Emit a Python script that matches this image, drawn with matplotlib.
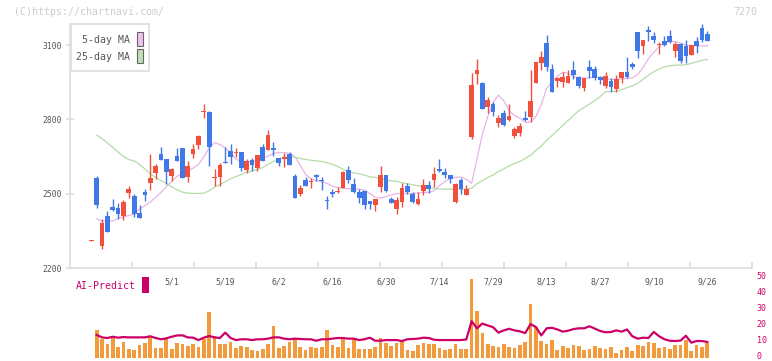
import numpy as np
import matplotlib
matplotlib.use("Agg")
import matplotlib.pyplot as plt
from matplotlib.patches import Rectangle
from matplotlib.transforms import blended_transform_factory, ScaledTranslation

# daily candles (index 0 = first session shown)
opens = [2310, 2563, 2290, 2410, 2445, 2441, 2411, 2504, 2491, 2422,
         2507, 2544, 2585, 2660, 2640, 2573, 2652, 2684, 2568, 2660,
         2698, 2828, 2830, 2564, 2566, 2629, 2672, 2663, 2668, 2596,
         2636, 2605, 2688, 2676, 2684, 2645, 2640, 2660, 2571, 2500,
         2554, 2546, 2575, 2552, 2475, 2507, 2508, 2524, 2595, 2540,
         2508, 2511, 2470, 2453, 2528, 2575, 2478, 2437, 2468, 2531,
         2500, 2457, 2510, 2535, 2555, 2600, 2587, 2575, 2468, 2555,
         2496, 2727, 2983, 2948, 2851, 2862, 2786, 2827, 2797, 2733,
         2744, 2804, 2811, 2948, 3029, 3107, 3003, 2955, 2949, 2948,
         2998, 2971, 2928, 3010, 3003, 2970, 2936, 2956, 2924, 2968,
         2990, 3022, 3151, 3096, 3161, 3136, 3100, 3117, 3136, 3077,
         3104, 3096, 3060, 3116, 3169, 3144]
highs = [2314, 2571, 2398, 2430, 2478, 2462, 2473, 2532, 2499, 2454,
         2519, 2660, 2620, 2688, 2640, 2605, 2686, 2684, 2632, 2699,
         2737, 2861, 2832, 2600, 2623, 2687, 2700, 2683, 2668, 2639,
         2645, 2657, 2700, 2757, 2709, 2645, 2663, 2667, 2579, 2534,
         2567, 2564, 2579, 2566, 2490, 2518, 2528, 2591, 2613, 2562,
         2518, 2511, 2470, 2478, 2612, 2575, 2488, 2488, 2542, 2542,
         2508, 2508, 2559, 2552, 2606, 2640, 2602, 2575, 2544, 2564,
         2535, 2986, 3043, 2951, 2891, 2870, 2817, 2838, 2862, 2768,
         2786, 2834, 2999, 3031, 3077, 3140, 3023, 2972, 2991, 2999,
         3035, 2975, 2966, 3039, 3015, 2976, 2990, 2966, 2979, 2990,
         3052, 3033, 3151, 3120, 3177, 3152, 3112, 3136, 3161, 3112,
         3109, 3120, 3100, 3133, 3185, 3157]
lows = [2310, 2444, 2276, 2346, 2430, 2397, 2395, 2484, 2407, 2403,
        2470, 2515, 2560, 2637, 2538, 2552, 2633, 2564, 2548, 2645,
        2679, 2807, 2613, 2532, 2532, 2625, 2621, 2649, 2593, 2583,
        2593, 2593, 2633, 2676, 2652, 2610, 2607, 2616, 2484, 2492,
        2532, 2523, 2552, 2513, 2440, 2488, 2501, 2524, 2542, 2501,
        2461, 2440, 2437, 2431, 2508, 2508, 2461, 2417, 2447, 2497,
        2461, 2453, 2493, 2501, 2528, 2589, 2564, 2544, 2464, 2500,
        2496, 2722, 2943, 2841, 2827, 2813, 2770, 2774, 2794, 2723,
        2733, 2794, 2790, 2948, 2999, 2996, 2909, 2932, 2929, 2948,
        2962, 2928, 2916, 2966, 2959, 2943, 2925, 2912, 2910, 2948,
        2966, 3003, 3048, 3064, 3116, 3107, 3064, 3096, 3109, 3053,
        3029, 3029, 3060, 3069, 3113, 3117]
closes = [2314, 2455, 2383, 2346, 2434, 2419, 2466, 2519, 2419, 2403,
          2496, 2563, 2613, 2637, 2589, 2600, 2633, 2564, 2612, 2679,
          2732, 2832, 2687, 2568, 2616, 2625, 2649, 2667, 2605, 2632,
          2616, 2656, 2633, 2737, 2678, 2625, 2647, 2616, 2484, 2524,
          2532, 2550, 2568, 2550, 2472, 2497, 2512, 2587, 2555, 2508,
          2484, 2453, 2460, 2478, 2575, 2512, 2464, 2474, 2523, 2508,
          2465, 2478, 2535, 2519, 2579, 2592, 2577, 2559, 2538, 2518,
          2518, 2939, 2999, 2841, 2878, 2831, 2807, 2778, 2813, 2760,
          2773, 2797, 2874, 3031, 3050, 3010, 2909, 2966, 2971, 2975,
          2979, 2936, 2966, 2996, 2968, 2958, 2975, 2932, 2963, 2990,
          2972, 3011, 3077, 3120, 3154, 3120, 3104, 3100, 3113, 3104,
          3037, 3057, 3100, 3097, 3120, 3117]

# moving averages, volume and AI-Predict start at the second session
ma5 = [2398, 2390, 2390, 2390, 2400, 2406, 2412, 2418, 2438, 2452,
       2466, 2485, 2505, 2528, 2550, 2570, 2582, 2592, 2603, 2618,
       2648, 2685, 2706, 2698, 2685, 2665, 2640, 2628, 2628, 2630,
       2633, 2642, 2652, 2662, 2666, 2666, 2663, 2650, 2615, 2578,
       2560, 2552, 2548, 2542, 2530, 2525, 2522, 2520, 2520, 2518,
       2515, 2500, 2486, 2482, 2488, 2495, 2500, 2501, 2501, 2501,
       2503, 2505, 2505, 2512, 2533, 2548, 2562, 2566, 2567, 2558,
       2542, 2640, 2740, 2810, 2868, 2898, 2875, 2835, 2815, 2805,
       2788, 2788, 2812, 2860, 2925, 2950, 2975, 2990, 2986, 2972,
       2968, 2966, 2968, 2970, 2970, 2964, 2962, 2962, 2963, 2965,
       2968, 2980, 3010, 3045, 3070, 3095, 3108, 3115, 3114, 3108,
       3100, 3097, 3096, 3096, 3097]
ma25 = [2736, 2722, 2705, 2687, 2668, 2650, 2638, 2632, 2618, 2600,
        2580, 2565, 2553, 2542, 2528, 2516, 2506, 2502, 2501, 2501,
        2502, 2512, 2526, 2537, 2548, 2560, 2569, 2578, 2586, 2592,
        2598, 2605, 2618, 2630, 2640, 2647, 2648, 2647, 2642, 2638,
        2635, 2632, 2630, 2625, 2618, 2610, 2598, 2590, 2584, 2580,
        2575, 2568, 2566, 2560, 2556, 2552, 2550, 2544, 2540, 2536,
        2532, 2528, 2524, 2521, 2519, 2518, 2518, 2518, 2518, 2518,
        2522, 2540, 2553, 2565, 2575, 2590, 2600, 2612, 2622, 2630,
        2642, 2655, 2675, 2692, 2715, 2735, 2755, 2775, 2795, 2815,
        2835, 2848, 2862, 2876, 2892, 2912, 2912, 2913, 2920, 2928,
        2935, 2945, 2962, 2978, 2992, 3003, 3012, 3016, 3019, 3019,
        3020, 3026, 3032, 3038, 3042]
volume = [17.4, 11.8, 8.6, 12.8, 6.7, 10.1, 5.5, 4.8, 8.0, 9.2,
          12.8, 6.1, 6.1, 12.0, 5.5, 9.2, 8.6, 7.4, 8.6, 6.7,
          11.6, 28.8, 13.4, 8.6, 8.6, 9.9, 6.1, 7.4, 6.7, 4.8,
          4.2, 5.5, 8.6, 20.0, 6.1, 7.4, 9.9, 11.6, 6.7, 4.8,
          6.7, 6.1, 6.7, 17.4, 8.0, 6.7, 11.6, 6.1, 11.6, 5.5,
          5.5, 5.5, 6.7, 12.2, 9.2, 7.4, 9.2, 10.5, 4.8, 4.2,
          8.0, 9.2, 8.6, 8.6, 6.1, 4.8, 5.5, 8.6, 5.5, 5.5,
          49.6, 29.4, 15.5, 8.6, 7.4, 6.7, 8.6, 6.7, 6.1, 8.0,
          9.9, 33.8, 19.3, 10.5, 8.6, 11.1, 4.8, 7.4, 6.1, 8.0,
          7.4, 4.8, 5.5, 7.4, 6.1, 5.5, 6.7, 2.9, 4.8, 6.7,
          4.2, 8.0, 7.4, 9.9, 9.2, 6.1, 6.7, 5.5, 8.0, 8.0,
          11.1, 4.2, 8.0, 6.7, 9.2]
ai_predict = [14.3, 12.8, 12.4, 13.2, 12.6, 13.0, 12.8, 12.8, 12.8, 12.8,
              13.5, 12.4, 11.6, 12.2, 13.2, 14.0, 14.1, 12.8, 12.6, 11.1,
              12.6, 13.7, 12.8, 12.4, 15.8, 12.4, 11.1, 11.6, 11.6, 11.1,
              11.6, 11.6, 12.0, 12.8, 12.8, 12.0, 11.6, 12.0, 11.8, 11.6,
              11.6, 10.7, 11.6, 11.6, 12.0, 12.4, 12.4, 12.0, 12.0, 11.1,
              11.6, 12.6, 10.7, 10.7, 11.1, 11.1, 11.1, 10.5, 11.6, 11.8,
              12.0, 12.6, 12.4, 11.3, 11.1, 11.1, 11.1, 11.1, 11.1, 11.5,
              23.0, 18.5, 21.5, 20.3, 19.2, 15.8, 17.2, 18.2, 17.2, 16.6,
              15.5, 21.2, 19.3, 14.0, 18.5, 18.8, 17.8, 16.4, 17.0, 18.0,
              18.5, 18.5, 19.8, 18.3, 16.8, 16.0, 16.2, 17.2, 16.4, 17.8,
              13.5, 12.0, 12.6, 12.4, 16.2, 13.5, 11.6, 10.7, 10.5, 10.8,
              13.8, 9.5, 10.5, 10.5, 9.9]

date_pos = [15, 25, 35, 45, 55, 65, 75, 85, 95, 105, 115]
date_labels = ["5/1", "5/19", "6/2", "6/16", "6/30", "7/14",
               "7/29", "8/13", "8/27", "9/10", "9/26"]
price_ticks = [2200, 2500, 2800, 3100]
ai_ticks = [0, 10, 20, 30, 40, 50]

RED = "#f0503c"
BLUE = "#4078e8"
GRID = "#dddddd"
TXT = "#555555"
CRIMSON = "#cc0066"
MONO = "DejaVu Sans Mono"

W, H = 772, 361
fig = plt.figure(figsize=(W / 100, H / 100), dpi=100)

idx = np.arange(len(closes))
o = np.array(opens, float)
c = np.array(closes, float)
xlim = (-3.98, 123.34)

# --- price panel ---
ax = fig.add_axes([70 / W, 93 / H, 682 / W, 244 / H])
ax.set_xlim(*xlim)
ax.set_ylim(2200, 3184.8)

cols = [RED if cc >= oo else BLUE for oo, cc in zip(o, c)]
ax.vlines(idx, lows, highs, colors=cols, lw=1.0, zorder=3)
ax.bar(idx, np.maximum(np.abs(c - o), 4), bottom=np.minimum(o, c),
       width=0.88, color=cols, zorder=4)
ax.plot(idx[1:], ma5, color="#e8b4e8", lw=0.9, zorder=2)
ax.plot(idx[1:], ma25, color="#b4dca8", lw=0.9, zorder=2)

for s in ["top", "right"]:
    ax.spines[s].set_visible(False)
for s in ["left", "bottom"]:
    ax.spines[s].set_color(GRID)
    ax.spines[s].set_linewidth(1.2)

ax.set_xticks(np.linspace(xlim[0], xlim[1], 12)[1:])
ax.tick_params(axis="x", direction="in", length=4.5, width=1.2,
               color=GRID, labelbottom=False)
ax.set_yticks(price_ticks)
ax.set_yticklabels([str(p) for p in price_ticks], fontsize=5.8,
                   family=MONO, color=TXT)
ax.tick_params(axis="y", direction="inout", length=6, width=1.2,
               color=GRID, pad=3)

tr = blended_transform_factory(ax.transData, ax.transAxes)
for p, lab in zip(date_pos, date_labels):
    ax.text(p, -0.0574, lab, transform=tr, ha="center", va="center",
            fontsize=5.9, family=MONO, color=TXT)

# --- AI-Predict / volume panel ---
ax2 = fig.add_axes([70 / W, 3.3 / H, 682 / W, 79.4 / H])
ax2.set_xlim(*xlim)
ax2.set_ylim(0, 50)
ax2.bar(idx[1:], volume, width=0.69, color="#f39a3c", zorder=2)
ax2.plot(idx[1:], ai_predict, color=CRIMSON, lw=1.6, zorder=3)
for s in ax2.spines.values():
    s.set_visible(False)
ax2.set_xticks([])
ax2.yaxis.tick_right()
ax2.set_yticks(ai_ticks)
ax2.set_yticklabels([str(t) for t in ai_ticks], fontsize=6, family=MONO,
                    color=CRIMSON)
ax2.tick_params(axis="y", length=0, pad=3.5)
ax2.patch.set_visible(False)
# keep the "0" label inside the canvas
lift = ScaledTranslation(0, 2.5 / 100, fig.dpi_scale_trans)
for lab in ax2.get_yticklabels():
    lab.set_transform(lab.get_transform() + lift)

# --- overlay in pixel coordinates ---
ov = fig.add_axes([0, 0, 1, 1], zorder=10)
ov.set_xlim(0, W)
ov.set_ylim(H, 0)
ov.axis("off")

ov.text(14, 12.3, "(C)https://chartnavi.com/", ha="left", va="center",
        fontsize=7.1, family=MONO, color="#cccccc")
ov.text(757.3, 12.3, "7270", ha="right", va="center",
        fontsize=7.1, family=MONO, color="#cccccc")

ov.add_patch(Rectangle((70.5, 24), 78, 47, facecolor="white",
                       edgecolor=GRID, lw=1.2))
ov.text(130, 40, "5-day MA", ha="right", va="center", fontsize=7.1,
        family=MONO, color=TXT)
ov.text(130, 57.3, "25-day MA", ha="right", va="center", fontsize=7.1,
        family=MONO, color=TXT)
ov.add_patch(Rectangle((137, 32), 5.5, 14, facecolor="#f0c0f0",
                       edgecolor="#666666", lw=0.8))
ov.add_patch(Rectangle((137, 49), 5.5, 14, facecolor="#c0e0b4",
                       edgecolor="#666666", lw=0.8))

ov.text(76, 286, "AI-Predict", ha="left", va="center", fontsize=7.1,
        family=MONO, color=CRIMSON)
ov.add_patch(Rectangle((142, 277.3), 6.7, 15.4, facecolor=CRIMSON,
                       edgecolor="none"))

fig.savefig("out.png", dpi=100)
print("Output: out.png")
